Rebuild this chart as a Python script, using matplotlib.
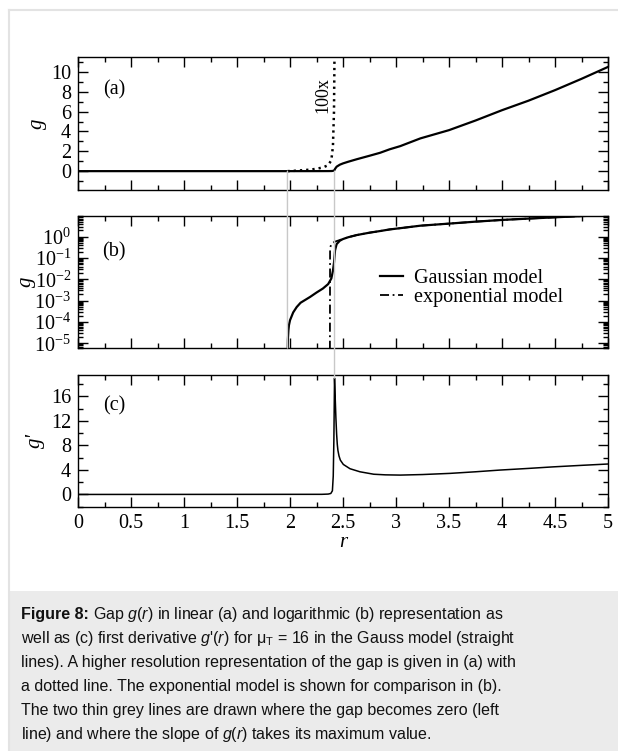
import matplotlib
matplotlib.use("Agg")
import matplotlib.pyplot as plt
import numpy as np
from matplotlib.lines import Line2D
from matplotlib.patches import ConnectionPatch, Rectangle
from matplotlib.ticker import LogLocator, MultipleLocator, NullFormatter

# gap g(r), Gauss model
R_GAUSS = [0.0, 1.976, 1.980, 1.985, 1.990, 2.000, 2.030, 2.063, 2.100, 2.190,
           2.250, 2.310, 2.360, 2.390, 2.405, 2.415, 2.420, 2.425, 2.440, 2.470,
           2.500, 2.550, 2.630, 2.750, 2.850, 2.940, 3.040, 3.230, 3.500, 3.750,
           4.000, 4.250, 4.500, 4.750, 5.000]
G_GAUSS = [0.0, 1e-6, 1.5e-5, 4e-5, 7e-5, 1.2e-4, 2.8e-4, 5e-4, 8e-4, 1.5e-3,
           2.4e-3, 3.7e-3, 6e-3, 1.1e-2, 2.5e-2, 6e-2, 0.12, 0.23, 0.45, 0.65,
           0.78, 0.95, 1.2, 1.55, 1.85, 2.2, 2.52, 3.3, 4.13, 5.1,
           6.14, 7.1, 8.16, 9.3, 10.5]

# exponential model (only in panel b)
R_EXP = [2.376, 2.378, 2.390, 2.420, 2.470, 2.500, 2.550, 2.630, 2.750, 2.850,
         2.940, 3.040, 3.230, 3.500, 3.750, 4.000, 4.250, 4.500, 4.750, 5.000]
G_EXP = [1e-7, 0.3, 0.45, 0.58, 0.7, 0.8, 0.95, 1.2, 1.55, 1.85,
         2.2, 2.52, 3.3, 4.13, 5.1, 6.14, 7.1, 8.16, 9.3, 10.5]

# first derivative g'(r)
R_DG = [0.0, 2.30, 2.36, 2.385, 2.400, 2.408, 2.414, 2.420, 2.426, 2.433,
        2.440, 2.446, 2.452, 2.462, 2.475, 2.503, 2.566, 2.66, 2.79, 2.90, 3.04,
        3.25, 3.51, 3.75, 3.98, 4.25, 4.48, 4.75, 5.0]
DG = [0.0, 0.02, 0.06, 0.16, 0.6, 3.0, 9.0, 19.0, 16.0, 12.5,
      9.8, 8.2, 7.2, 6.3, 5.6, 4.9, 4.2, 3.7, 3.3, 3.2, 3.16,
      3.25, 3.44, 3.7, 3.98, 4.25, 4.5, 4.75, 4.97]

HIGHRES_FACTOR = 100
HIGHRES_RANGE = (1.976, 2.425)
GAP_ZERO_R = 1.976      # left grey line
MAX_SLOPE_R = 2.42      # right grey line
MAX_SLOPE_DG = 19.0

LOG_TICKS = [1e-5, 1e-4, 1e-3, 1e-2, 1e-1, 1e0]

CAPTION_HEAD = "Figure 8:"
CAPTION = [
    r"Gap $g$($r$) in linear (a) and logarithmic (b) representation as",
    r"well as (c) first derivative $g$'($r$) for μ$_\mathrm{T}$ = 16 in the Gauss model (straight",
    r"lines). A higher resolution representation of the gap is given in (a) with",
    r"a dotted line. The exponential model is shown for comparison in (b).",
    r"The two thin grey lines are drawn where the gap becomes zero (left",
    r"line) and where the slope of $g$($r$) takes its maximum value.",
]

plt.rcParams.update({
    "font.family": "Liberation Serif",
    "font.size": 14.5,
    "mathtext.fontset": "custom",
    "mathtext.rm": "Liberation Sans",
    "mathtext.it": "Liberation Sans:italic",
    "mathtext.bf": "Liberation Sans:bold",
    "axes.linewidth": 1.0,
})

W, H = 618, 751
fig = plt.figure(figsize=(W / 100, H / 100), dpi=100)


def box(top, bottom):
    return [78 / W, 1 - bottom / H, (608 - 78) / W, (bottom - top) / H]


ax_a = fig.add_axes(box(57, 190))
ax_b = fig.add_axes(box(216, 348))
ax_c = fig.add_axes(box(375, 506.7))

r_g = np.array(R_GAUSS)
g_g = np.array(G_GAUSS)

# (a) linear
ax_a.plot(r_g, g_g, color="black", lw=1.6)
sel = (r_g >= HIGHRES_RANGE[0]) & (r_g <= HIGHRES_RANGE[1])
ax_a.plot(r_g[sel], HIGHRES_FACTOR * g_g[sel], color="black", lw=1.8,
          linestyle=(0, (0.9, 1.6)))
ax_a.text(2.31, 7.65, "100x", rotation=90, ha="center", va="center", fontsize=13)
ax_a.set_ylim(-1.9, 11.5)
ax_a.yaxis.set_major_locator(MultipleLocator(2))
ax_a.yaxis.set_minor_locator(MultipleLocator(1))

# (b) log
g_log = np.where(g_g > 0, g_g, np.nan)
ax_b.plot(r_g, g_log, color="black", lw=1.6, label="Gaussian model")
ax_b.plot(R_EXP, G_EXP, color="black", lw=1.3, linestyle=(0, (5, 2, 1, 2)),
          label="exponential model")
ax_b.set_yscale("log")
ax_b.set_ylim(6e-6, 9.4)
ax_b.yaxis.set_major_locator(plt.FixedLocator(LOG_TICKS))
ax_b.yaxis.set_minor_locator(LogLocator(base=10, subs=np.arange(2, 10), numticks=20))
ax_b.yaxis.set_minor_formatter(NullFormatter())
ax_b.legend(loc="upper left", bbox_to_anchor=(0.57, 0.60), frameon=False,
            borderpad=0, borderaxespad=0, handlelength=1.15, handletextpad=0.55,
            labelspacing=0.0, fontsize=14.5)

# (c) derivative
ax_c.plot(R_DG, DG, color="black", lw=1.1)
ax_c.set_ylim(-2, 19.5)
ax_c.yaxis.set_major_locator(MultipleLocator(4))
ax_c.yaxis.set_minor_locator(MultipleLocator(2))

for ax, lab, ly, ylab, lx in [(ax_a, "(a)", 0.752, "g", -0.058),
                              (ax_b, "(b)", 0.73, "g", -0.079),
                              (ax_c, "(c)", 0.765, "g'", -0.062)]:
    ax.set_xlim(0, 5)
    ax.xaxis.set_major_locator(MultipleLocator(0.5))
    ax.xaxis.set_minor_locator(MultipleLocator(0.25))
    ax.tick_params(which="both", direction="in", top=True, right=True, width=1.0)
    ax.tick_params(which="major", length=7.2, labelsize=14.5, pad=5)
    ax.tick_params(which="minor", length=3.6)
    ax.text(0.068, ly, lab, transform=ax.transAxes, ha="center", va="center",
            fontsize=14.5)
    ax.set_ylabel(ylab, fontstyle="italic", fontsize=15)
    ax.yaxis.set_label_coords(lx, 0.5)
    if ax is not ax_c:
        ax.tick_params(labelbottom=False)

ax_c.xaxis.set_major_formatter(plt.FuncFormatter(lambda v, p: f"{v:g}"))
ax_c.set_xlabel("r", fontstyle="italic", fontsize=15, labelpad=0)

# thin grey guide lines across the panels
grey = "#c8c8c8"
fig.add_artist(ConnectionPatch(xyA=(GAP_ZERO_R, 0), coordsA=ax_a.transData,
                               xyB=(GAP_ZERO_R, 6e-6), coordsB=ax_b.transData,
                               color=grey, lw=1.0))
fig.add_artist(ConnectionPatch(xyA=(MAX_SLOPE_R, 0), coordsA=ax_a.transData,
                               xyB=(MAX_SLOPE_R, MAX_SLOPE_DG), coordsB=ax_c.transData,
                               color=grey, lw=1.0))

# page frame and caption box
fig.add_artist(Line2D([9 / W, 9 / W], [0, 1 - 10 / H], color="#e3e3e3", lw=1.5))
fig.add_artist(Line2D([9 / W, 1], [1 - 10 / H, 1 - 10 / H], color="#e3e3e3", lw=1.5))
fig.add_artist(Rectangle((9 / W, 0), 1 - 9 / W, 160 / H, transform=fig.transFigure,
                         facecolor="#ebebeb", edgecolor="none"))

cap_kw = dict(family="Liberation Sans", fontsize=11.5, color="#111111")
base0 = 619
head = fig.text(21 / W, 1 - base0 / H, CAPTION_HEAD, ha="left", va="baseline",
                fontweight="bold", **cap_kw)
renderer = fig.canvas.get_renderer()
head_end = head.get_window_extent(renderer).x1
fig.text((head_end + 4) / W, 1 - base0 / H, CAPTION[0], ha="left", va="baseline",
         **cap_kw)
for i, line in enumerate(CAPTION[1:], start=1):
    fig.text(21 / W, 1 - (base0 + 24 * i) / H, line, ha="left", va="baseline", **cap_kw)

fig.savefig("out.png", dpi=100)
